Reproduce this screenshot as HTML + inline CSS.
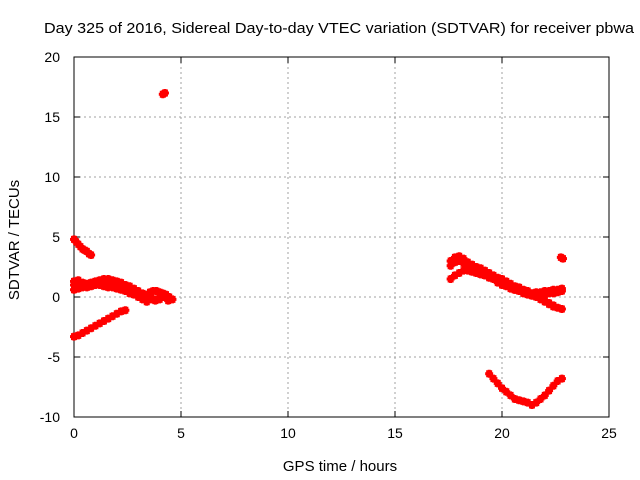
<!DOCTYPE html>
<html><head><meta charset="utf-8"><style>
body{margin:0;background:#fff}
svg{display:block;font-family:"Liberation Sans",sans-serif;font-size:12px}
</style></head><body>
<svg id="c" width="640" height="480"></svg>
<script>
const xTicks=[0,5,10,15,20,25];
const yTicks=[-10,-5,0,5,10,15,20];
const trackA={x0:0,step:0.1,y:[4.8,4.6,4.4,4.2,4.0,3.9,3.8,3.6,3.5]};
const trackB={x0:0,step:0.2,y:[-3.3,-3.2,-3.0,-2.8,-2.6,-2.4,-2.2,-2.0,-1.8,-1.6,-1.4,-1.2,-1.1]};
const trackC={x0:0,step:0.2,y:[1.3,1.4,1.2,1.1,1.2,1.3,1.4,1.5,1.5,1.4,1.3,1.2,1.0,0.9,0.7,0.5,0.3,0.1,0.0,-0.2,-0.1,0.1,-0.3]};
const trackC2={x0:0,step:0.2,y:[1.0,1.1,1.0,0.9,1.0,1.1,1.2,1.2,1.2,1.1,1.0,0.9,0.7,0.6,0.4,0.2,0.1,-0.1,-0.2,-0.3,-0.2,0.0]};
const trackD={x0:0,step:0.2,y:[0.6,0.7,0.8,0.8,0.9,1.0,1.0,0.9,0.8,0.8,0.7,0.6,0.5,0.3,0.2,0.0,-0.2,-0.4]};
const trackE={x0:3.4,step:0.15,y:[0.2,0.4,0.5,0.5,0.4,0.3,0.2,0.0,-0.2]};
const trackP1={x0:4.15,step:0.1,y:[16.9,17.0]};
const trackF={x0:17.6,step:0.2,y:[3.0,3.3,3.4,3.2,2.9,2.7,2.5,2.4,2.2,2.0,1.8,1.6,1.5,1.3,1.1,0.9,0.8,0.6,0.5,0.3,0.1,-0.1,-0.3,-0.5,-0.7,-0.9,-1.0]};
const trackF2={x0:17.6,step:0.2,y:[2.6,2.9,3.0,2.8,2.6,2.4,2.2,2.1,1.9,1.7,1.5,1.4,1.2,1.0,0.8,0.6,0.5,0.3,0.2,0.1,0.0,-0.2,-0.4,-0.6,-0.8]};
const trackG={x0:17.6,step:0.2,y:[1.5,1.8,2.0,2.2,2.2,2.1,2.0,1.9,1.8,1.6,1.5,1.3,1.2,1.0,0.8,0.6,0.5,0.4,0.3,0.3,0.4,0.4,0.5,0.5,0.6,0.6,0.7]};
const trackH={x0:18.8,step:0.2,y:[2.0,1.9,1.8,1.7,1.5,1.2,1.0,0.9,0.7,0.6,0.5,0.4,0.4,0.3,0.3,0.2,0.2,0.3,0.3,0.4,0.5]};
const trackI={x0:19.4,step:0.2,y:[-6.4,-6.8,-7.2,-7.6,-7.9,-8.2,-8.5,-8.6,-8.7,-8.8,-9.0,-8.8,-8.5,-8.2,-7.8,-7.4,-7.0,-6.8]};
const trackP2={x0:22.75,step:0.1,y:[3.3,3.2]};
const tracks=[trackA,trackB,trackC,trackC2,trackD,trackE,trackP1,trackF,trackF2,trackG,trackH,trackI,trackP2];

const L=74,R=609,T=57,B=417;
const sx=v=>L+(v-0)/(25-0)*(R-L);
const sy=v=>B-(v+10)/30*(B-T);
const svg=document.getElementById('c');
const NS='http://www.w3.org/2000/svg';
function mk(tag,attrs,parent){const e=document.createElementNS(NS,tag);for(const k in attrs)e.setAttribute(k,attrs[k]);(parent||svg).appendChild(e);return e;}

const title=mk('text',{x:44,y:33,'font-size':'15',textLength:590,lengthAdjust:'spacingAndGlyphs'});
title.textContent='Day 325 of 2016, Sidereal Day-to-day VTEC variation (SDTVAR) for receiver pbwa';



xTicks.forEach(t=>{
  const x=sx(t);
  if(t>0&&t<25){const g=mk('line',{x1:x,x2:x,y1:T,y2:B,stroke:'#a0a0a0','stroke-dasharray':'2,3'});
  }
  mk('line',{x1:x,x2:x,y1:B,y2:B-6,stroke:'#000'});mk('line',{x1:x,x2:x,y1:T,y2:T+6,stroke:'#000'});
  const l=mk('text',{x:x,y:B+21,'text-anchor':'middle','font-size':'14'});l.textContent=t;
  
});
yTicks.forEach(t=>{
  const y=sy(t);
  if(t>-10&&t<20){const g=mk('line',{x1:L,x2:R,y1:y,y2:y,stroke:'#a0a0a0','stroke-dasharray':'2,3'});
  }
  mk('line',{x1:L,x2:L+6,y1:y,y2:y,stroke:'#000'});mk('line',{x1:R,x2:R-6,y1:y,y2:y,stroke:'#000'});
  const l=mk('text',{x:L-14,y:y+5,'text-anchor':'end','font-size':'14'});l.textContent=t;
  
});
const frame=mk('rect',{x:L,y:T,width:R-L,height:B-T,fill:'none',stroke:'#000'});


const xl=mk('text',{x:340,y:471,'text-anchor':'middle','font-size':'15'});xl.textContent='GPS time / hours';

const yl=mk('text',{x:0,y:0,'text-anchor':'middle','font-size':'15',transform:'translate(19,240) rotate(-90)'});yl.textContent='SDTVAR / TECUs';


tracks.forEach(tr=>{
  let d='';
  tr.y.forEach((v,i)=>{const x=sx(tr.x0+i*tr.step),y=sy(v);
    d+=`M${x-4},${y}h8M${x},${y-4}v8M${x-3},${y-2}h6M${x-3},${y+2}h6`;});
  const p=mk('path',{d:d,stroke:'#ff0000','stroke-width':3,fill:'none'});
  
  
});
</script>
</body></html>
